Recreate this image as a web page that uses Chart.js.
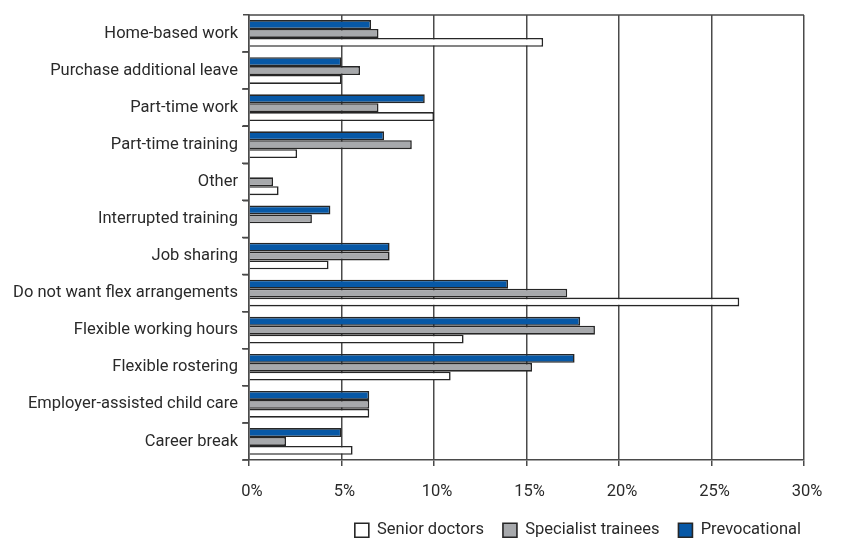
<!DOCTYPE html>
<html>
<head>
<meta charset="utf-8">
<script src="https://cdn.jsdelivr.net/npm/chart.js@4/dist/chart.umd.min.js"></script>
<style>
  html, body { margin: 0; padding: 0; background: #ffffff; }
  #wrap { width: 846px; height: 541px; position: relative; }
</style>
</head>
<body>
<div id="wrap"><canvas id="c" width="846" height="541"></canvas></div>
<script>
const categories = [
  'Home-based work',
  'Purchase additional leave',
  'Part-time work',
  'Part-time training',
  'Other',
  'Interrupted training',
  'Job sharing',
  'Do not want flex arrangements',
  'Flexible working hours',
  'Flexible rostering',
  'Employer-assisted child care',
  'Career break'
];
const prevocational      = [6.6, 5.0, 9.5, 7.3, null, 4.4, 7.6, 14.0, 17.9, 17.6, 6.5, 5.0];
const specialistTrainees = [7.0, 6.0, 7.0, 8.8, 1.3, 3.4, 7.6, 17.2, 18.7, 15.3, 6.5, 2.0];
const seniorDoctors      = [15.9, 5.0, 10.0, 2.6, 1.6, null, 4.3, 26.5, 11.6, 10.9, 6.5, 5.6];
const seriesNames = ['Prevocational', 'Specialist trainees', 'Senior doctors'];
const xTickValues = [0, 5, 10, 15, 20, 25, 30];
const xTickLabels = ['0%', '5%', '10%', '15%', '20%', '25%', '30%'];

const FONT = 'Roboto';
const TEXT = '#2a2a2a';
const GRID = '#4a4a4a';
const EDGE = '#262626';

const frame = {
  id: 'frame',
  beforeDatasetsDraw(chart) {
    const a = chart.chartArea, ctx = chart.ctx;
    const ys = chart.scales.y;
    ctx.save();
    ctx.strokeStyle = GRID;
    ctx.lineWidth = 1.5;
    ctx.beginPath();
    ctx.moveTo(a.left, a.top);
    ctx.lineTo(a.right, a.top);
    // category boundary tick marks on the left axis
    for (let i = 1; i <= categories.length; i++) {
      const y = ys.getPixelForValue(i - 0.5);
      ctx.moveTo(a.left - 7, y);
      ctx.lineTo(a.left, y);
    }
    ctx.stroke();
    ctx.restore();
  }
};

new Chart(document.getElementById('c'), {
  type: 'bar',
  data: {
    labels: categories,
    datasets: [
      { label: seriesNames[0], data: prevocational, backgroundColor: '#0758a6', borderColor: EDGE, borderWidth: 1.6 },
      { label: seriesNames[1], data: specialistTrainees, backgroundColor: '#a7a9ac', borderColor: EDGE, borderWidth: 1.6 },
      { label: seriesNames[2], data: seniorDoctors, backgroundColor: '#ffffff', borderColor: EDGE, borderWidth: 1.6 }
    ]
  },
  options: {
    indexAxis: 'y',
    responsive: false,
    animation: false,
    devicePixelRatio: 1,
    categoryPercentage: 0.72,
    barPercentage: 1.0,
    layout: { padding: { left: 0, right: 26, top: 12, bottom: 0 } },
    plugins: {
      tooltip: { enabled: false },
      legend: {
        position: 'bottom',
        align: 'end',
        reverse: true,
        maxHeight: 38,
        labels: {
          boxWidth: 14,
          boxHeight: 14,
          padding: 19,
          color: TEXT,
          font: { family: FONT, size: 16.5 }
        }
      }
    },
    scales: {
      x: {
        min: 0,
        max: 30,
        afterBuildTicks(scale) { scale.ticks = xTickValues.map(v => ({ value: v })); },
        afterFit(scale) { scale.paddingRight = 42; scale.height = 43; },
        ticks: {
          padding: 16,
          labelOffset: 3,
          color: TEXT,
          font: { family: FONT, size: 16.5 },
          callback(value) { const i = xTickValues.indexOf(value); return i >= 0 ? xTickLabels[i] : ''; }
        },
        grid: { color: GRID, lineWidth: 1.5, tickLength: 6, drawTicks: true },
        border: { color: GRID, width: 1.5 }
      },
      y: {
        afterFit(scale) { scale.width = 249; },
        ticks: {
          padding: 5,
          color: TEXT,
          font: { family: FONT, size: 16.5 }
        },
        grid: { drawOnChartArea: false, drawTicks: true, tickLength: 6, color: GRID, lineWidth: 1.5 },
        border: { color: GRID, width: 1.5 }
      }
    }
  },
  plugins: [frame]
});
</script>
</body>
</html>
